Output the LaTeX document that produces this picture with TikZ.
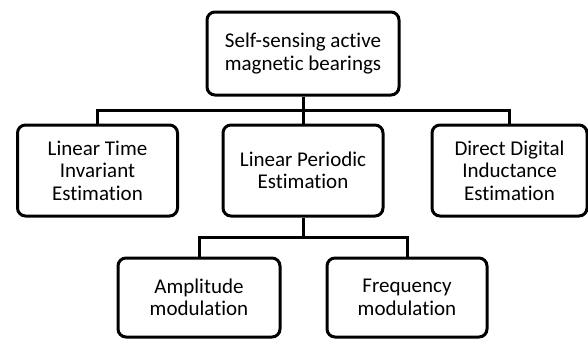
\documentclass[tikz,border=0pt]{standalone}
\usepackage{fontspec}
\setmainfont{Carlito}[Ligatures=NoCommon]
\usepackage{tikz}
\usetikzlibrary{positioning}

\begin{document}
\begin{tikzpicture}[x=1pt, y=-1pt,
  box/.style={draw, line width=3pt, rounded corners=8pt, align=center,
              font=\fontsize{21}{22.5}\selectfont, inner sep=0pt},
  link/.style={line width=3pt}]
\useasboundingbox (0,0) rectangle (588,338);
\node[box, minimum width=192pt, minimum height=83pt] (top) at (303,53.5) {Self-sensing active\\magnetic bearings};
\node[box, minimum width=160pt, minimum height=91pt] (lti) at (97.5,170.5) {Linear Time\\Invariant\\Estimation};
\node[box, minimum width=160pt, minimum height=91pt] (lpe) at (303,170.5) {Linear Periodic\\Estimation};
\node[box, minimum width=155pt, minimum height=91pt] (ddi) at (509.5,170.5) {Direct Digital\\Inductance\\Estimation};
\node[box, minimum width=162pt, minimum height=79pt] (amp) at (199,297.5) {Amplitude\\modulation};
\node[box, minimum width=160pt, minimum height=79pt] (frq) at (407,297.5) {Frequency\\modulation};
% junctions of the two buses
\coordinate (j1) at (303,110);
\coordinate (j2) at (303,237);
\draw[link] (top) -- (j1);
\draw[link] (lti) |- (j1) -| (ddi);
\draw[link] (j1) -- (lpe);
\draw[link] (lpe) -- (j2);
\draw[link] (amp) |- (j2) -| (frq);
\end{tikzpicture}
\end{document}
